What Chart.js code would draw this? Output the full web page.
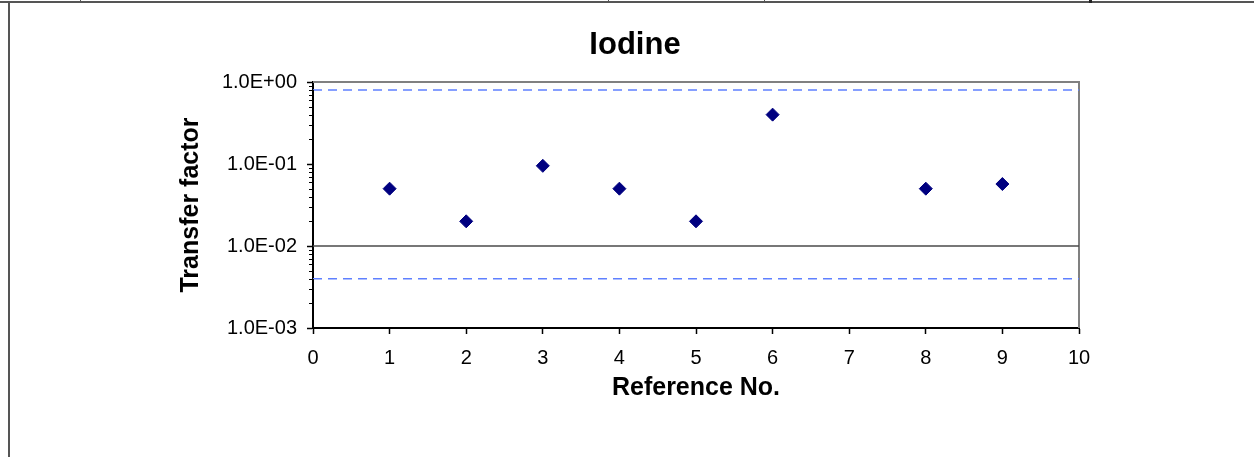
<!DOCTYPE html>
<html>
<head>
<meta charset="utf-8">
<title>Iodine</title>
<script src="https://cdn.jsdelivr.net/npm/chart.js@4/dist/chart.umd.min.js"></script>
<style>
  html, body { margin: 0; padding: 0; background: #ffffff; }
  #wrap { width: 1254px; height: 457px; position: relative; }
</style>
</head>
<body>
<div id="wrap"><canvas id="chart" width="1254" height="457"></canvas></div>
<script>
// Reference numbers and measured transfer factors
const refNos = [1, 2, 3, 4, 5, 6, 8, 9];
const transferFactors = [0.05, 0.02, 0.095, 0.05, 0.02, 0.4, 0.05, 0.057];

// Horizontal guide levels
const upperLevel = 0.8;
const midLevel = 0.01;
const lowerLevel = 0.004;

// Axis ranges and tick labels
const xRange = [0, 10];
const yTickValues = [0.001, 0.01, 0.1, 1];
const yTickLabels = ['1.0E-03', '1.0E-02', '1.0E-01', '1.0E+00'];
const yMinorMultipliers = [2, 3, 4, 5, 6, 7, 8, 9];

const FONT = "Arial, 'Liberation Sans', sans-serif";

// Sheet frame lines around the chart object
const framePlugin = {
  id: 'frame',
  beforeDraw(chart) {
    const ctx = chart.ctx;
    ctx.save();
    ctx.fillStyle = '#ffffff';
    ctx.fillRect(0, 0, chart.width, chart.height);
    ctx.strokeStyle = '#555555';
    ctx.lineWidth = 2;
    ctx.beginPath();
    ctx.moveTo(0, 2); ctx.lineTo(chart.width, 2);
    ctx.moveTo(9, 2); ctx.lineTo(9, chart.height);
    ctx.stroke();
    ctx.lineWidth = 1;
    ctx.beginPath();
    [80.5, 608.5, 764.5].forEach(x => { ctx.moveTo(x, 0); ctx.lineTo(x, 2); });
    ctx.stroke();
    ctx.fillStyle = '#222222';
    ctx.fillRect(1089, 0, 3, 3);
    ctx.restore();
  }
};

// Plot-area outline (grey) and minor log ticks on the value axis
const plotBoxPlugin = {
  id: 'plotBox',
  beforeDatasetsDraw(chart) {
    const {ctx, chartArea: a} = chart;
    ctx.save();
    ctx.strokeStyle = '#808080';
    ctx.lineWidth = 2;
    ctx.beginPath();
    ctx.moveTo(a.left, a.top); ctx.lineTo(a.right, a.top); ctx.lineTo(a.right, a.bottom);
    ctx.stroke();
    ctx.restore();
  },
  afterDraw(chart) {
    const {ctx, chartArea: a} = chart;
    const y = chart.scales.y;
    ctx.save();
    ctx.strokeStyle = '#000000';
    ctx.lineWidth = 1;
    ctx.beginPath();
    for (let e = -3; e < 0; e++) {
      yMinorMultipliers.forEach(m => {
        const py = Math.round(y.getPixelForValue(m * Math.pow(10, e))) + 0.5;
        ctx.moveTo(a.left - 4, py); ctx.lineTo(a.left + 1, py);
      });
    }
    ctx.stroke();
    ctx.restore();
  }
};

const hLine = (level) => [{x: xRange[0], y: level}, {x: xRange[1], y: level}];

new Chart(document.getElementById('chart'), {
  type: 'scatter',
  data: {
    datasets: [
      {
        label: 'Transfer factor',
        data: refNos.map((r, i) => ({x: r, y: transferFactors[i]})),
        pointStyle: 'rectRot',
        pointRadius: 6.5,
        pointHoverRadius: 6.5,
        backgroundColor: '#000080',
        borderColor: '#000080',
        borderWidth: 1
      },
      {
        label: 'upper',
        data: hLine(upperLevel),
        showLine: true,
        pointRadius: 0,
        borderColor: '#5f80ff',
        borderWidth: 1.5,
        borderDash: [9, 6]
      },
      {
        label: 'mid',
        data: hLine(midLevel),
        showLine: true,
        pointRadius: 0,
        borderColor: '#4a4a4a',
        borderWidth: 1.3
      },
      {
        label: 'lower',
        data: hLine(lowerLevel),
        showLine: true,
        pointRadius: 0,
        borderColor: '#5f80ff',
        borderWidth: 1.5,
        borderDash: [9, 6]
      }
    ]
  },
  options: {
    responsive: false,
    animation: false,
    events: [],
    layout: { padding: { left: 16, right: 0, top: 0, bottom: 0 } },
    plugins: {
      legend: { display: false },
      tooltip: { enabled: false },
      title: {
        display: true,
        text: 'Iodine',
        color: '#000000',
        font: { family: FONT, size: 31, weight: 'bold' },
        padding: { top: 27, bottom: 17.8 }
      }
    },
    scales: {
      x: {
        type: 'linear',
        position: 'bottom',
        min: xRange[0],
        max: xRange[1],
        afterFit(scale) { scale.height = 129; },
        ticks: {
          stepSize: 1,
          color: '#000000',
          padding: 12,
          font: { family: FONT, size: 20 }
        },
        grid: {
          display: true,
          drawOnChartArea: false,
          drawTicks: true,
          tickLength: 6,
          tickColor: '#000000',
          tickWidth: 1.5
        },
        border: { display: true, color: '#000000', width: 2 },
        title: {
          display: true,
          text: 'Reference No.',
          color: '#000000',
          font: { family: FONT, size: 25, weight: 'bold' },
          padding: { top: 0, bottom: 54 }
        }
      },
      y: {
        type: 'logarithmic',
        position: 'left',
        min: yTickValues[0],
        max: yTickValues[yTickValues.length - 1],
        afterFit(scale) { scale.width = 297; },
        afterBuildTicks(scale) {
          scale.ticks = yTickValues.map(v => ({value: v, major: true}));
        },
        ticks: {
          color: '#000000',
          padding: 10,
          font: { family: FONT, size: 20 },
          callback(value) {
            const i = yTickValues.findIndex(v => Math.abs(v - value) < v * 1e-6);
            return i >= 0 ? yTickLabels[i] : '';
          }
        },
        grid: {
          display: true,
          drawOnChartArea: false,
          drawTicks: true,
          tickLength: 6,
          tickColor: '#000000',
          tickWidth: 1.5
        },
        border: { display: true, color: '#000000', width: 2 },
        title: {
          display: true,
          text: 'Transfer factor',
          color: '#000000',
          font: { family: FONT, size: 25, weight: 'bold' },
          padding: { top: 160, bottom: 0 }
        }
      },
      yRight: {
        type: 'linear',
        position: 'right',
        display: true,
        afterFit(scale) { scale.width = 175; },
        ticks: { display: false },
        grid: { display: false, drawTicks: false },
        border: { display: false }
      }
    }
  },
  plugins: [framePlugin, plotBoxPlugin]
});
</script>
</body>
</html>
